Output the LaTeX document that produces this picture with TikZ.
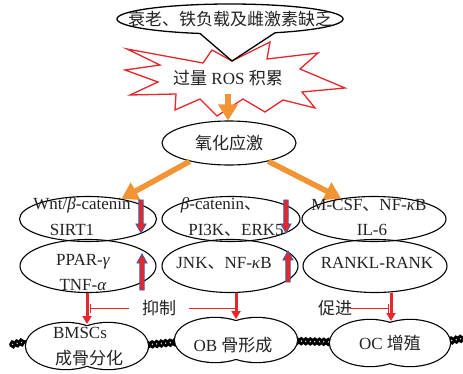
\documentclass[tikz,border=0pt]{standalone}
\usepackage{fontspec}
\setmainfont{Liberation Serif}
\newfontfamily\cjk{Noto Sans CJK SC}
\usetikzlibrary{shapes.geometric,arrows.meta,decorations.pathmorphing,calc}
\definecolor{orng}{HTML}{F29433}
\definecolor{rd}{HTML}{E8262A}
\definecolor{bl}{HTML}{3F5FA8}
\definecolor{txt}{HTML}{222222}
\newcommand\mypeanut[5]{%
  \draw[line width=2.4pt] (#1-#3,#2) ellipse [x radius=#4pt, y radius=#5pt];
  \draw[line width=2.4pt] (#1+#3,#2) ellipse [x radius=#4pt, y radius=#5pt];
  \fill[white] (#1-#3,#2) ellipse [x radius=#4pt, y radius=#5pt];
  \fill[white] (#1+#3,#2) ellipse [x radius=#4pt, y radius=#5pt];}
% block arrow: x, tail y, tip y, head length (signed)
\newcommand\myblock[4]{%
  \draw[draw=bl, fill=rd, line width=0.9pt, line join=miter]
    (#1-2.2,#2) -- (#1+2.2,#2) -- (#1+2.2,#3-#4) -- (#1+5,#3-#4) -- (#1,#3)
    -- (#1-5,#3-#4) -- (#1-2.2,#3-#4) -- cycle;}
\begin{document}
\begin{tikzpicture}[x=1pt,y=-1pt,
  every node/.style={font=\fontsize{17}{20}\selectfont, text=txt, inner sep=0pt},
  oval/.style={draw, ellipse, line width=1.1pt, inner sep=0pt},
  orangearrow/.style={orng, line width=5.5pt, -{Triangle[width=19pt,length=16pt]}},
  redarrow/.style={rd, line width=3pt, -{Triangle[width=9pt,length=8pt]}},
  inhib/.style={rd, line width=1pt},
  rope/.style={line width=2.6pt, decorate, decoration={snake, amplitude=2.8pt, segment length=9pt}},
  ropeb/.style={line width=2.6pt, decorate, decoration={snake, amplitude=2.8pt, segment length=9pt, mirror}},
]
\useasboundingbox[fill=white] (0,0) rectangle (463,374);

% starburst
\draw[rd, line width=1.3pt, fill=white] (127,49) -- (203,63) -- (212,50) -- (232,61) -- (270,42) -- (267,59)
  -- (318,53) -- (300,69) -- (345,88) -- (302,92) -- (315,108) -- (283,100) -- (265,112) -- (243,99)
  -- (217,116) -- (200,99) -- (175,110) -- (176,94) -- (130,95) -- (158,82) -- (125,70) -- (160,65) -- cycle;
\node (ros) at (228,78) {{\cjk 过量} ROS {\cjk 积累}};

% callout
\draw[line width=1.3pt, fill=white] plot[domain=105.4:426.5, samples=90] ({230+113*cos(\x)},{19+15*sin(\x)}) -- (232,61) -- cycle;
\node (cause) at (230,19) {{\cjk 衰老、铁负载及雌激素缺乏}};

% oxidative stress
\node[oval, minimum width=134pt, minimum height=44pt] (ox) at (229,143) {{\cjk 氧化应激}};
\draw[orangearrow, shorten <=8pt] (ros.south) -- (ros.south |- ox.north);

% pathway ellipses
\node[oval, minimum width=137pt, minimum height=45pt] (l1) at (88,219) {};
\node[oval, minimum width=138pt, minimum height=45pt] (m1) at (231,219) {};
\node[oval, minimum width=144pt, minimum height=45pt] (r1) at (374,219) {};
\node[oval, minimum width=136pt, minimum height=53pt] (l2) at (88,266) {};
\node[oval, minimum width=136pt, minimum height=53pt] (m2) at (230,266) {};
\node[oval, minimum width=144pt, minimum height=53pt] (r2) at (375,266) {};

\draw[orangearrow] (ox.205) -- (l1.31);
\draw[orangearrow] (ox.-25) -- (r1.148);

\node (t11) at (82,205) {Wnt/\textit{β}-catenin};
\node (t12) at (72,230) {SIRT1};
\node (t21) at (221,205) {\textit{β}-catenin{\cjk 、}};
\node (t22) at (236,230) {PI3K{\cjk 、}ERK5};
\node (t31) at (369,205) {M-CSF{\cjk 、}NF-\textit{κ}B};
\node (t32) at (372,230) {IL-6};
\node (t41) at (83,262) {PPAR-\textit{γ}};
\node (t42) at (83,285) {TNF-\textit{α}};
\node (t51) at (224,263) {JNK{\cjk 、}NF-\textit{κ}B};
\node (t61) at (377,263) {RANKL-RANK};

\myblock{141}{200}{233}{9}
\myblock{286}{200}{233}{9}
\myblock{142}{290}{254}{-9}
\myblock{288}{282}{251}{-9}

% ropes
\draw[rope] (10,345) -- (28,341);
\draw[ropeb] (10,345) -- (28,341);
\draw[rope] (145,345) -- (178,342);
\draw[ropeb] (145,345) -- (178,342);
\draw[rope] (294,341) -- (332,342);
\draw[ropeb] (294,341) -- (332,342);
\draw[rope] (449,341) -- (465,338);
\draw[ropeb] (449,341) -- (465,338);

% bottom peanuts
\mypeanut{87}{346}{21}{40}{23}
\mypeanut{236}{340}{21}{40}{22}
\mypeanut{390}{343}{20}{40}{23}
\node (b1a) at (80,333) {BMSCs};
\node (b1b) at (89,358) {{\cjk 成骨分化}};
\node (bm) at (233,345) {OB {\cjk 骨形成}};
\node (br) at (390,343) {OC {\cjk 增殖}};

\coordinate (b1top) at (87,324);
\coordinate (bmtop) at (236,319);
\coordinate (brtop) at (391,321);
\draw[redarrow] (b1top |- l2.south) -- (b1top);
\draw[redarrow] (bmtop |- m2.south) -- (bmtop);
\draw[redarrow] (brtop |- r2.south) -- (brtop);

\node (yz) at (159,308) {{\cjk 抑制}};
\node (cj) at (335,308) {{\cjk 促进}};
\coordinate (i1) at (90,308);
\draw[inhib, {Bar[width=9pt]}-] (i1) -- ($(yz.west)+(-13,0)$);
\draw[inhib, -{Bar[width=9pt]}] ($(yz.east)+(13,0)$) -- (bmtop |- yz);
\draw[inhib, -{Bar[width=9pt]}] ($(cj.east)+(-2,0)$) -- ($(brtop |- cj)+(-2,0)$);
\end{tikzpicture}
\end{document}
